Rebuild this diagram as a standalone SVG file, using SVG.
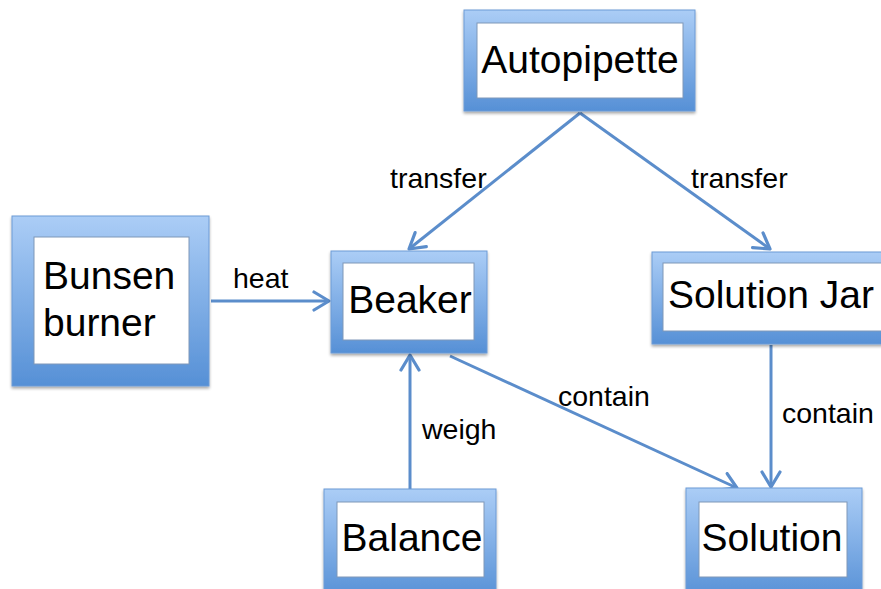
<svg xmlns="http://www.w3.org/2000/svg" width="881" height="589" viewBox="0 0 881 589">
<defs>
<linearGradient id="g" x1="0" y1="0" x2="0" y2="1">
<stop offset="0" stop-color="#abcdf6"/>
<stop offset="1" stop-color="#5690d6"/>
</linearGradient>
<filter id="sh" x="-10%" y="-10%" width="130%" height="130%">
<feGaussianBlur in="SourceAlpha" stdDeviation="1.5"/>
<feOffset dx="0" dy="2" result="b"/>
<feComponentTransfer><feFuncA type="linear" slope="0.35"/></feComponentTransfer>
<feMerge><feMergeNode/><feMergeNode in="SourceGraphic"/></feMerge>
</filter>
<marker id="ah" viewBox="0 0 22 22" refX="20" refY="11" markerWidth="22" markerHeight="22" markerUnits="userSpaceOnUse" orient="auto">
<path d="M5,2 L20,11 L5,20" fill="none" stroke="#5b8dcb" stroke-width="3.2" stroke-linecap="round" stroke-linejoin="round"/>
</marker>
</defs>
<style>
.outer{fill:url(#g);stroke:#6d9bd6;stroke-width:1;filter:url(#sh)}
.inner{fill:#ffffff;stroke:#7f97b8;stroke-width:1}
.nt{font-family:"Liberation Sans",Arial,sans-serif;font-size:39px;fill:#000}
.lb{font-family:"Liberation Sans",Arial,sans-serif;font-size:28.5px;fill:#000}
.c{stroke:#5b8dcb;stroke-width:3;fill:none;marker-end:url(#ah)}
</style>
<rect width="881" height="589" fill="#fff"/>
<g id="connectors">
<line class="c" x1="580" y1="113" x2="409" y2="249"/>
<line class="c" x1="580" y1="113" x2="770" y2="249"/>
<line class="c" x1="211" y1="301" x2="329" y2="301"/>
<line class="c" x1="410" y1="489" x2="410" y2="355"/>
<line class="c" x1="450" y1="356" x2="737" y2="488"/>
<line class="c" x1="771" y1="345" x2="771" y2="487"/>
<text class="lb" x="390" y="188">transfer</text>
<text class="lb" x="691" y="188">transfer</text>
<text class="lb" x="233" y="288">heat</text>
<text class="lb" x="422" y="439">weigh</text>
<text class="lb" x="558" y="406">contain</text>
<text class="lb" x="782" y="423">contain</text>
</g>
<g id="autopipette">
<rect class="outer" x="464" y="10" width="231" height="101"/>
<rect class="inner" x="477" y="23" width="206" height="75"/>
<text class="nt" x="580" y="73" text-anchor="middle">Autopipette</text>
</g>
<g id="bunsen">
<rect class="outer" x="12" y="216" width="197" height="170"/>
<rect class="inner" x="34" y="237" width="155" height="127"/>
<text class="nt" x="43" y="289">Bunsen</text>
<text class="nt" x="43" y="336">burner</text>
</g>
<g id="beaker">
<rect class="outer" x="331" y="251" width="156" height="102"/>
<rect class="inner" x="343" y="263" width="131" height="77"/>
<text class="nt" x="410" y="313" text-anchor="middle">Beaker</text>
</g>
<g id="solutionjar">
<rect class="outer" x="652" y="252" width="240" height="92"/>
<rect class="inner" x="663" y="263" width="225" height="68"/>
<text class="nt" x="668" y="308">Solution Jar</text>
</g>
<g id="balance">
<rect class="outer" x="324" y="489" width="172" height="110"/>
<rect class="inner" x="337" y="502" width="147" height="75"/>
<text class="nt" x="412" y="551" text-anchor="middle">Balance</text>
</g>
<g id="solution">
<rect class="outer" x="686" y="488" width="176" height="111"/>
<rect class="inner" x="699" y="502" width="148" height="75"/>
<text class="nt" x="772" y="551" text-anchor="middle">Solution</text>
</g>
</svg>
